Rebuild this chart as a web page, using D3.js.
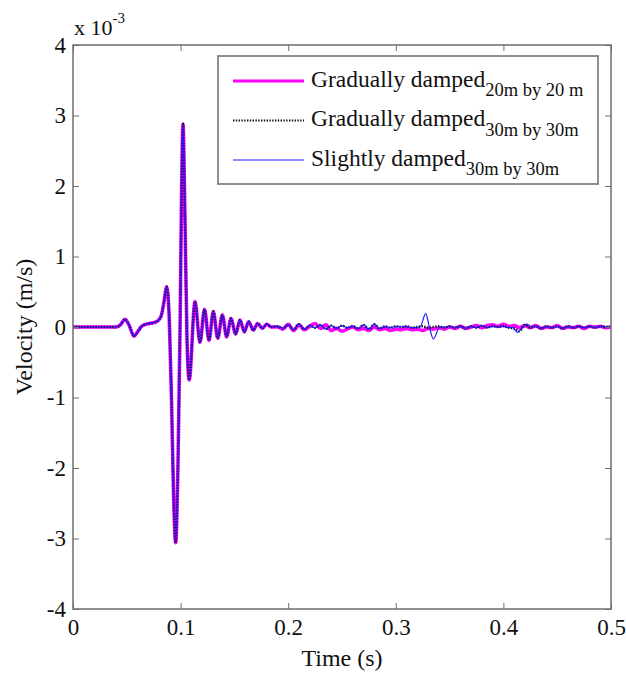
<!DOCTYPE html>
<html>
<head>
<meta charset="utf-8">
<script src="https://cdn.jsdelivr.net/npm/d3@7"></script>
<style>
  body { margin: 0; background: #fff; }
  svg { display: block; font-family: "Liberation Serif", "Times New Roman", serif; }
</style>
</head>
<body>
<svg id="chart" width="626" height="675"></svg>
<script>
// Shared early part of the record (all three runs coincide here), velocity in 1e-3 m/s
const tEarly = [0, 0.040, 0.044, 0.0483, 0.052, 0.0567, 0.060, 0.0638, 0.068, 0.0747, 0.079, 0.082,
  0.0845, 0.0871, 0.0895, 0.0915, 0.0935, 0.0954, 0.0975, 0.0995, 0.1010, 0.1022, 0.1040, 0.1060,
  0.1080, 0.1134, 0.1180, 0.1222, 0.1264, 0.1304, 0.1345, 0.1388, 0.1428, 0.1468, 0.1512, 0.1552,
  0.1592, 0.1632, 0.1676, 0.1716, 0.1760, 0.1800, 0.1845];
const vEarly = [0, 0, 0.03, 0.11, 0.03, -0.13, -0.07, 0.01, 0.04, 0.06, 0.09, 0.16,
  0.35, 0.57, 0.10, -1.0, -2.4, -3.06, -2.0, 0.0, 2.0, 2.88, 1.6, -0.2,
  -0.75, 0.36, -0.22, 0.25, -0.19, 0.22, -0.16, 0.17, -0.14, 0.12, -0.10, 0.10,
  -0.07, 0.075, -0.045, 0.05, -0.02, 0.04, 0.0];

// Tails after 0.19 s
const tTail = [0.190, 0.195, 0.200, 0.205, 0.210, 0.215, 0.220, 0.225, 0.230, 0.235, 0.240, 0.245,
  0.250, 0.255, 0.260, 0.265, 0.270, 0.275, 0.280, 0.285, 0.290, 0.295, 0.300, 0.305, 0.310, 0.315,
  0.320, 0.325, 0.330, 0.335, 0.340, 0.345, 0.350, 0.355, 0.360, 0.365, 0.370, 0.375, 0.380, 0.385,
  0.390, 0.395, 0.400, 0.405, 0.410, 0.415, 0.420, 0.425, 0.430, 0.435, 0.440, 0.445, 0.450, 0.455,
  0.460, 0.465, 0.470, 0.475, 0.480, 0.485, 0.490, 0.495, 0.500];
const vGrad20 = [0.0, -0.03, 0.04, -0.05, 0.03, -0.04, 0.01, 0.05, -0.02, 0.03, -0.05, -0.02,
  -0.06, -0.03, 0.0, -0.04, -0.02, -0.05, 0.0, -0.04, -0.02, -0.05, -0.03, -0.04, -0.02, -0.04,
  -0.03, -0.05, -0.02, -0.03, -0.01, -0.03, 0.0, -0.02, 0.01, -0.02, 0.0, 0.02, -0.01, 0.02,
  0.03, 0.01, 0.04, 0.01, 0.02, -0.01, 0.02, -0.01, 0.02, -0.02, 0.0, -0.01, 0.02, -0.02,
  0.0, -0.01, 0.01, -0.02, 0.01, 0.0, 0.01, -0.01, 0.0];
const vGrad30 = [0.01, -0.02, 0.03, -0.04, 0.04, -0.03, 0.02, -0.01, 0.03, -0.03, 0.02, -0.02,
  0.02, -0.01, 0.01, -0.02, 0.03, -0.03, 0.04, -0.02, 0.01, -0.01, 0.01, 0.0, 0.01, -0.01,
  0.0, 0.01, -0.01, 0.0, 0.01, -0.01, 0.01, -0.01, 0.01, -0.02, 0.01, -0.01, 0.02, -0.01,
  0.01, 0.0, 0.01, -0.01, -0.02, -0.06, 0.03, -0.01, 0.01, -0.02, 0.01, -0.01, 0.01, -0.02,
  0.01, -0.01, 0.01, -0.01, 0.01, -0.01, 0.01, 0.0, 0.0];
const tSlight = [0.190, 0.195, 0.200, 0.205, 0.210, 0.215, 0.220, 0.225, 0.230, 0.235, 0.240, 0.245,
  0.250, 0.255, 0.260, 0.265, 0.270, 0.275, 0.280, 0.285, 0.290, 0.295, 0.300, 0.305, 0.310, 0.315,
  0.3225, 0.3278, 0.3312, 0.3349, 0.3404, 0.345, 0.350, 0.355, 0.360, 0.365, 0.370, 0.375, 0.380,
  0.385, 0.390, 0.395, 0.400, 0.405, 0.4085, 0.4130, 0.4175, 0.4220, 0.4265, 0.430, 0.435, 0.440,
  0.445, 0.450, 0.455, 0.460, 0.465, 0.470, 0.475, 0.480, 0.485, 0.490, 0.495, 0.500];
const vSlight = [0.01, -0.02, 0.03, -0.04, 0.04, -0.03, 0.02, -0.01, 0.03, -0.03, 0.02, -0.02,
  0.02, -0.01, 0.01, -0.02, 0.03, -0.03, 0.04, -0.02, 0.01, -0.01, 0.01, 0.0, 0.01, -0.01,
  0.0, 0.19, 0.0, -0.17, -0.01, 0.0, 0.01, -0.01, 0.01, -0.02, 0.01, -0.01, 0.02,
  -0.01, 0.01, 0.0, 0.01, -0.01, -0.01, -0.075, -0.01, 0.04, 0.0, 0.01, -0.02, 0.01,
  -0.01, 0.01, -0.02, 0.01, -0.01, 0.01, -0.01, 0.01, -0.01, 0.01, 0.0, 0.0];

const xTicks = [0, 0.1, 0.2, 0.3, 0.4, 0.5];
const yTicks = [-4, -3, -2, -1, 0, 1, 2, 3, 4];

const series = [
  { name: "Gradually damped", sub: "20m by 20 m", t: tTail, v: vGrad20, color: "#ff00ff", width: 3.6, dash: null },
  { name: "Gradually damped", sub: "30m by 30m", t: tTail, v: vGrad30, color: "#111", width: 2.4, dash: "1.4,1.4" },
  { name: "Slightly damped", sub: "30m by 30m", t: tSlight, v: vSlight, color: "#1a1aff", width: 1.2, dash: null }
];

const serif = "Liberation Serif";
const svg = d3.select("#chart");
const pLeft = 73, pRight = 611, pTop = 45, pBottom = 609;
const frameColor = "#6e6e6e";

const x = d3.scaleLinear().domain([0, 0.5]).range([pLeft, pRight]);
const y = d3.scaleLinear().domain([-4, 4]).range([pBottom, pTop]);

svg.append("rect").attr("width", 626).attr("height", 675).attr("fill", "#fff");

// clip to plot area
svg.append("clipPath").attr("id", "clip")
  .append("rect").attr("x", pLeft).attr("y", pTop).attr("width", pRight - pLeft).attr("height", pBottom - pTop);

const line = d3.line()
  .x(d => x(d[0]))
  .y(d => y(d[1]))
  .curve(d3.curveMonotoneX);

const plot = svg.append("g").attr("clip-path", "url(#clip)");

series.forEach(s => {
  const pts = tEarly.map((t, i) => [t, vEarly[i]])
    .concat(s.t.map((t, i) => [t, s.v[i]]));
  plot.append("path")
    .datum(pts)
    .attr("d", line)
    .attr("fill", "none")
    .attr("stroke", s.color)
    .attr("stroke-width", s.width)
    .attr("stroke-dasharray", s.dash)
    .attr("stroke-linejoin", "round");
});

// Axes with inward ticks
const fmt = d => String(d);
const styleAxis = g => {
  g.attr("font-family", serif).attr("font-size", 23);
  g.select(".domain").remove();
  g.selectAll("line").attr("stroke", frameColor);
  g.selectAll("text").attr("fill", "#111").attr("font-family", serif);
};

svg.append("g").attr("transform", `translate(0,${pBottom})`)
  .call(d3.axisBottom(x).tickValues(xTicks).tickFormat(fmt).tickSizeInner(-6).tickSizeOuter(0).tickPadding(10))
  .call(styleAxis);
svg.append("g").attr("transform", `translate(0,${pTop})`)
  .call(d3.axisTop(x).tickValues(xTicks).tickFormat("").tickSizeInner(-6).tickSizeOuter(0))
  .call(styleAxis);
svg.append("g").attr("transform", `translate(${pLeft},0)`)
  .call(d3.axisLeft(y).tickValues(yTicks).tickFormat(fmt).tickSizeInner(-6).tickSizeOuter(0).tickPadding(7))
  .call(styleAxis);
svg.append("g").attr("transform", `translate(${pRight},0)`)
  .call(d3.axisRight(y).tickValues(yTicks).tickFormat("").tickSizeInner(-6).tickSizeOuter(0))
  .call(styleAxis);

// frame
svg.append("rect")
  .attr("x", pLeft).attr("y", pTop)
  .attr("width", pRight - pLeft).attr("height", pBottom - pTop)
  .attr("fill", "none").attr("stroke", frameColor).attr("stroke-width", 1.5);

// exponent label
const expo = svg.append("text").attr("x", pLeft + 1).attr("y", 35)
  .attr("font-family", serif).attr("font-size", 22).attr("fill", "#111");
expo.append("tspan").text("x 10");
expo.append("tspan").attr("dy", -12).attr("font-size", 15).text("-3");

// axis titles
svg.append("text")
  .attr("x", (pLeft + pRight) / 2).attr("y", 666)
  .attr("text-anchor", "middle").attr("font-family", serif).attr("font-size", 24).attr("fill", "#111")
  .text("Time (s)");
svg.append("text")
  .attr("transform", `translate(32,${y(0)}) rotate(-90)`)
  .attr("text-anchor", "middle").attr("font-family", serif).attr("font-size", 24).attr("fill", "#111")
  .text("Velocity (m/s)");

// legend
const legend = svg.append("g");
legend.append("rect")
  .attr("x", 218).attr("y", 56).attr("width", 380).attr("height", 128)
  .attr("fill", "#fff").attr("stroke", frameColor).attr("stroke-width", 1.5);

const rowY = [81, 120.5, 160];
series.forEach((s, i) => {
  legend.append("line")
    .attr("x1", 233).attr("x2", 304)
    .attr("y1", rowY[i]).attr("y2", rowY[i])
    .attr("stroke", s.color)
    .attr("stroke-width", i === 0 ? 3 : (i === 1 ? 2.2 : 1.2))
    .attr("stroke-dasharray", s.dash);
  const txt = legend.append("text")
    .attr("x", 311).attr("y", rowY[i] + 5.5)
    .attr("font-family", serif).attr("font-size", 23.5).attr("fill", "#111");
  txt.append("tspan").text(s.name);
  txt.append("tspan").attr("dy", 9.5).attr("font-size", 18.5).text(s.sub);
});
</script>
</body>
</html>
